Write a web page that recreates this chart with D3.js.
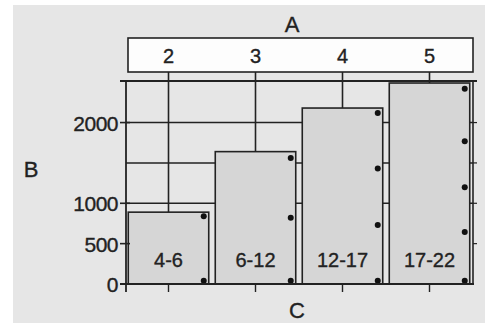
<!DOCTYPE html>
<html>
<head>
<meta charset="utf-8">
<script src="https://cdn.jsdelivr.net/npm/d3@7"></script>
<style>
  body { margin: 0; background: #fff; }
  text { font-family: "Liberation Sans", Arial, sans-serif; fill: #222; stroke: #222; stroke-width: 0.35px; }
</style>
</head>
<body>
<svg id="chart" width="489" height="323"></svg>
<script>
// top axis (A) values, one per bar
var ages = [2, 3, 4, 5];
// bar labels
var groups = ["4-6", "6-12", "12-17", "17-22"];
// bar heights (B)
var values = [890, 1640, 2180, 2490];
// dots drawn along the right side of each bar
var dots = [
  [840, 40],
  [1560, 820, 40],
  [2120, 1430, 730, 40],
  [2420, 1770, 1200, 645, 40]
];
var yTicks = [0, 500, 1000, 2000];
var yGrid = [1000, 1500, 2000];

var svg = d3.select("#chart");
var ink = "#222";

// gray paper
svg.append("rect").attr("x", 13).attr("y", 5).attr("width", 472).attr("height", 318)
  .attr("fill", "#e6e6e6");

var x = d3.scaleLinear().domain([1.5, 5.5]).range([125, 473]);
var y = d3.scaleLinear().domain([0, 2515]).range([284, 81]);
var barW = (x(2) - x(1.5)) * 1.85;

// grid lines behind the bars
svg.selectAll(".grid").data(yGrid).enter().append("line")
  .attr("x1", 126).attr("x2", 473)
  .attr("y1", function(d){ return y(d); }).attr("y2", function(d){ return y(d); })
  .attr("stroke", ink).attr("stroke-width", 1.6);

// top frame line
svg.append("line").attr("x1", 120).attr("x2", 477).attr("y1", y.range()[1]).attr("y2", y.range()[1])
  .attr("stroke", ink).attr("stroke-width", 1.8);

// top box with the A scale
svg.append("rect").attr("x", 128).attr("y", 38).attr("width", 345).attr("height", 34)
  .attr("fill", "#fdfdfd").attr("stroke", ink).attr("stroke-width", 1.6);

// vertical lines from the box down to each bar
svg.selectAll(".drop").data(ages).enter().append("line")
  .attr("x1", function(d){ return x(d); }).attr("x2", function(d){ return x(d); })
  .attr("y1", 72).attr("y2", function(d, i){ return y(values[i]); })
  .attr("stroke", ink).attr("stroke-width", 1.6);

svg.selectAll(".agelab").data(ages).enter().append("text")
  .attr("x", function(d){ return x(d); }).attr("y", 63)
  .attr("text-anchor", "middle").style("font-size", "20px")
  .text(function(d){ return d; });

// bars
svg.selectAll(".bar").data(values).enter().append("rect")
  .attr("x", function(d, i){ return x(ages[i]) - barW / 2; })
  .attr("y", function(d){ return y(d); })
  .attr("width", barW)
  .attr("height", function(d){ return y(0) - y(d); })
  .attr("fill", "#d6d6d6").attr("stroke", ink).attr("stroke-width", 1.6);

svg.selectAll(".barlab").data(groups).enter().append("text")
  .attr("x", function(d, i){ return x(ages[i]); }).attr("y", 267)
  .attr("text-anchor", "middle").style("font-size", "20px")
  .text(function(d){ return d; });

// dots on right edge of bars
dots.forEach(function(list, i){
  svg.selectAll(".dot" + i).data(list).enter().append("circle")
    .attr("cx", x(ages[i]) + barW / 2 - 5)
    .attr("cy", function(d){ return y(d); })
    .attr("r", 3).attr("fill", "#111");
});

// left axis
svg.append("line").attr("x1", 126).attr("x2", 126).attr("y1", 81).attr("y2", 292)
  .attr("stroke", ink).attr("stroke-width", 1.8);
svg.selectAll(".ytick").data(yTicks).enter().append("line")
  .attr("x1", 120).attr("x2", 130)
  .attr("y1", function(d){ return y(d); }).attr("y2", function(d){ return y(d); })
  .attr("stroke", ink).attr("stroke-width", 1.6);
svg.selectAll(".ylab").data(yTicks).enter().append("text")
  .attr("x", 118).attr("y", function(d){ return y(d) + 8; })
  .attr("text-anchor", "end").style("font-size", "21px").style("letter-spacing", "-0.5px")
  .text(function(d){ return d; });

// right edge with small ticks
svg.append("line").attr("x1", 473).attr("x2", 473).attr("y1", 81).attr("y2", 284)
  .attr("stroke", ink).attr("stroke-width", 1.6);
svg.selectAll(".rtick").data([500, 1000, 1500, 2000]).enter().append("line")
  .attr("x1", 473).attr("x2", 477)
  .attr("y1", function(d){ return y(d); }).attr("y2", function(d){ return y(d); })
  .attr("stroke", ink).attr("stroke-width", 1.2);

// bottom axis
svg.append("line").attr("x1", 120).attr("x2", 474).attr("y1", y(0)).attr("y2", y(0))
  .attr("stroke", ink).attr("stroke-width", 1.8);
svg.selectAll(".xtick").data(ages).enter().append("line")
  .attr("x1", function(d){ return x(d); }).attr("x2", function(d){ return x(d); })
  .attr("y1", y(0)).attr("y2", 292)
  .attr("stroke", ink).attr("stroke-width", 1.4);

// axis titles
svg.append("text").attr("x", 292).attr("y", 32).attr("text-anchor", "middle")
  .style("font-size", "22px").text("A");
svg.append("text").attr("x", 31).attr("y", 177).attr("text-anchor", "middle")
  .style("font-size", "22px").text("B");
svg.append("text").attr("x", 297).attr("y", 318).attr("text-anchor", "middle")
  .style("font-size", "22px").text("C");
</script>
</body>
</html>
